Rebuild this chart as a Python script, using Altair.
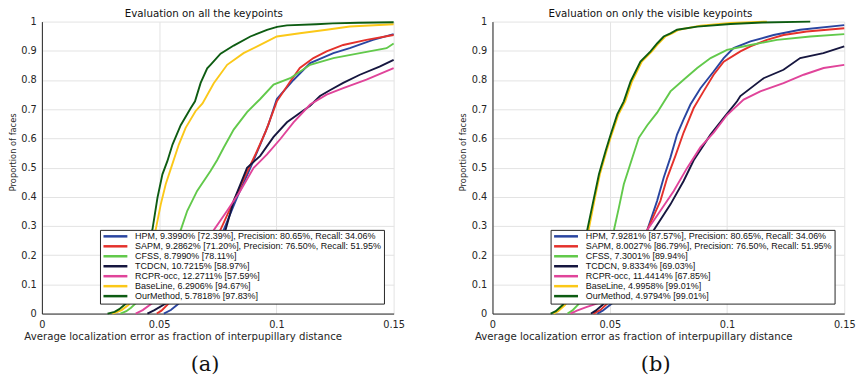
import altair as alt
import pandas as pd

methods = ["HPM", "SAPM", "CFSS", "TCDCN", "RCPR-occ", "BaseLine", "OurMethod"]
colors = ["#2a45a0", "#e4312b", "#62c94b", "#16163f", "#e0449a", "#fbc818", "#0d5c12"]

NB = "\u00a0"
labels_a = [
    "HPM, 9.3990% [72.39%], Precision: 80.65%, Recall: 34.06%",
    "SAPM, 9.2862% [71.20%], Precision: 76.50%, Recall: 51.95%" + NB * 3,
    "CFSS, 8.7990% [78.11%]",
    "TCDCN, 10.7215% [58.97%]",
    "RCPR-occ, 12.2711% [57.59%]",
    "BaseLine, 6.2906% [94.67%]",
    "OurMethod, 5.7818% [97.83%]",
]
labels_b = [
    "HPM, 7.9281% [87.57%], Precision: 80.65%, Recall: 34.06%",
    "SAPM, 8.0027% [86.79%], Precision: 76.50%, Recall: 51.95%" + NB * 15,
    "CFSS, 7.3001% [89.94%]",
    "TCDCN, 9.8334% [69.03%]",
    "RCPR-occ, 11.4414% [67.85%]",
    "BaseLine, 4.9958% [99.01%]",
    "OurMethod, 4.9794% [99.01%]",
]

x_ticks = [0, 0.05, 0.1, 0.15]
y_ticks = [0, 0.1, 0.2, 0.3, 0.4, 0.5, 0.6, 0.7, 0.8, 0.9, 1]

# ---- Panel (a): all keypoints ----
a_hpm_x = [0.052, 0.055, 0.0585, 0.061, 0.064, 0.067, 0.071, 0.0745, 0.0775, 0.0832, 0.0889, 0.0931, 0.0966, 0.1002, 0.1073, 0.1144, 0.1243, 0.1313, 0.1412, 0.15]
a_hpm_y = [0, 0.012, 0.035, 0.06, 0.1, 0.15, 0.21, 0.25, 0.286, 0.397, 0.499, 0.579, 0.647, 0.735, 0.80, 0.858, 0.892, 0.909, 0.9375, 0.957]
a_sapm_x = [0.049, 0.051, 0.054, 0.057, 0.060, 0.064, 0.068, 0.072, 0.0761, 0.0818, 0.0875, 0.0917, 0.0955, 0.1002, 0.1059, 0.110, 0.1158, 0.1214, 0.1285, 0.1384, 0.15]
a_sapm_y = [0, 0.01, 0.034, 0.06, 0.09, 0.14, 0.19, 0.24, 0.286, 0.386, 0.485, 0.556, 0.625, 0.727, 0.795, 0.841, 0.875, 0.898, 0.92, 0.9375, 0.954]
a_cfss_x = [0.0335, 0.036, 0.038, 0.040, 0.043, 0.046, 0.049, 0.052, 0.0555, 0.0592, 0.062, 0.0662, 0.0719, 0.0747, 0.0775, 0.0818, 0.0875, 0.0931, 0.0988, 0.1059, 0.1144, 0.1243, 0.1356, 0.147, 0.15]
a_cfss_y = [0, 0.008, 0.02, 0.035, 0.06, 0.09, 0.13, 0.18, 0.23, 0.286, 0.352, 0.42, 0.488, 0.525, 0.568, 0.63, 0.69, 0.735, 0.784, 0.806, 0.852, 0.875, 0.892, 0.909, 0.925]
a_tcdcn_x = [0.045, 0.048, 0.053, 0.056, 0.060, 0.064, 0.068, 0.072, 0.0755, 0.0783, 0.0818, 0.0875, 0.0931, 0.0988, 0.1045, 0.110, 0.1144, 0.1186, 0.1228, 0.1285, 0.1356, 0.144, 0.15]
a_tcdcn_y = [0, 0.012, 0.035, 0.06, 0.1, 0.14, 0.19, 0.235, 0.265, 0.286, 0.386, 0.499, 0.54, 0.605, 0.655, 0.687, 0.712, 0.745, 0.765, 0.79, 0.818, 0.846, 0.869]
a_rcpr_x = [0.040, 0.043, 0.047, 0.050, 0.054, 0.058, 0.062, 0.066, 0.070, 0.0733, 0.079, 0.0846, 0.0903, 0.096, 0.1016, 0.1073, 0.1144, 0.1214, 0.1285, 0.1384, 0.15]
a_rcpr_y = [0, 0.012, 0.035, 0.06, 0.095, 0.135, 0.18, 0.22, 0.26, 0.286, 0.352, 0.42, 0.499, 0.545, 0.597, 0.655, 0.716, 0.75, 0.772, 0.801, 0.841]
a_base_x = [0.030, 0.032, 0.034, 0.037, 0.040, 0.043, 0.046, 0.0485, 0.0507, 0.0528, 0.0556, 0.0584, 0.0613, 0.0655, 0.0685, 0.0733, 0.079, 0.086, 0.0931, 0.1002, 0.110, 0.1214, 0.1313, 0.15]
a_base_y = [0, 0.005, 0.012, 0.03, 0.065, 0.12, 0.2, 0.286, 0.374, 0.443, 0.511, 0.579, 0.636, 0.693, 0.72, 0.789, 0.852, 0.892, 0.920, 0.949, 0.960, 0.972, 0.983, 0.991]
a_our_x = [0.028, 0.031, 0.033, 0.036, 0.039, 0.042, 0.045, 0.0471, 0.0493, 0.0514, 0.0535, 0.0557, 0.0592, 0.0635, 0.0653, 0.0677, 0.0705, 0.0719, 0.0762, 0.0818, 0.0889, 0.096, 0.1003, 0.1045, 0.117, 0.124, 0.135, 0.15]
a_our_y = [0, 0.006, 0.015, 0.035, 0.075, 0.14, 0.22, 0.286, 0.397, 0.477, 0.522, 0.579, 0.645, 0.704, 0.727, 0.79, 0.84, 0.852, 0.89, 0.918, 0.949, 0.972, 0.982, 0.987, 0.991, 0.994, 0.996, 0.998]

# ---- Panel (b): visible keypoints ----
b_hpm_x = [0.0447, 0.047, 0.051, 0.054, 0.057, 0.060, 0.063, 0.066, 0.0702, 0.073, 0.0759, 0.0787, 0.0815, 0.0844, 0.0887, 0.0943, 0.0986, 0.1028, 0.110, 0.1199, 0.1312, 0.15]
b_hpm_y = [0, 0.01, 0.035, 0.07, 0.12, 0.18, 0.235, 0.286, 0.386, 0.465, 0.535, 0.613, 0.665, 0.716, 0.772, 0.829, 0.875, 0.909, 0.932, 0.954, 0.972, 0.988]
b_sapm_x = [0.043, 0.046, 0.049, 0.052, 0.055, 0.058, 0.0615, 0.066, 0.0716, 0.0745, 0.078, 0.0815, 0.0858, 0.090, 0.0943, 0.0986, 0.1057, 0.110, 0.117, 0.1241, 0.134, 0.15]
b_sapm_y = [0, 0.012, 0.035, 0.07, 0.12, 0.175, 0.23, 0.286, 0.386, 0.465, 0.54, 0.62, 0.704, 0.761, 0.818, 0.863, 0.898, 0.915, 0.9375, 0.954, 0.966, 0.977]
b_cfss_x = [0.032, 0.034, 0.037, 0.040, 0.043, 0.046, 0.049, 0.0518, 0.0539, 0.056, 0.0596, 0.0624, 0.066, 0.0702, 0.0759, 0.0815, 0.0873, 0.093, 0.100, 0.110, 0.1213, 0.1355, 0.15]
b_cfss_y = [0, 0.01, 0.035, 0.07, 0.12, 0.17, 0.23, 0.286, 0.363, 0.443, 0.533, 0.602, 0.645, 0.688, 0.761, 0.801, 0.841, 0.875, 0.903, 0.92, 0.9375, 0.949, 0.957]
b_tcdcn_x = [0.042, 0.044, 0.047, 0.050, 0.054, 0.058, 0.062, 0.066, 0.0688, 0.0759, 0.0815, 0.0858, 0.0929, 0.0986, 0.1043, 0.1057, 0.1156, 0.1241, 0.1312, 0.1411, 0.15]
b_tcdcn_y = [0, 0.01, 0.03, 0.06, 0.1, 0.15, 0.2, 0.25, 0.286, 0.374, 0.454, 0.525, 0.612, 0.67, 0.727, 0.745, 0.806, 0.835, 0.875, 0.892, 0.915]
b_rcpr_x = [0.0333, 0.036, 0.040, 0.0447, 0.048, 0.052, 0.056, 0.060, 0.063, 0.066, 0.0716, 0.0773, 0.083, 0.0887, 0.0943, 0.100, 0.1071, 0.1142, 0.1241, 0.1327, 0.1412, 0.15]
b_rcpr_y = [0, 0.01, 0.022, 0.035, 0.06, 0.1, 0.15, 0.2, 0.245, 0.286, 0.352, 0.42, 0.499, 0.57, 0.62, 0.68, 0.733, 0.761, 0.789, 0.818, 0.841, 0.852]
b_base_x = [0.026, 0.028, 0.031, 0.034, 0.037, 0.0395, 0.041, 0.0437, 0.0458, 0.0486, 0.0508, 0.0537, 0.0566, 0.0595, 0.0637, 0.068, 0.0708, 0.0737, 0.0766, 0.0795, 0.0887, 0.1015, 0.117]
b_base_y = [0, 0.008, 0.03, 0.07, 0.13, 0.21, 0.286, 0.397, 0.477, 0.556, 0.613, 0.682, 0.727, 0.795, 0.863, 0.898, 0.925, 0.949, 0.96, 0.972, 0.986, 0.995, 1.0]
b_our_x = [0.0248, 0.027, 0.030, 0.033, 0.036, 0.0385, 0.0404, 0.0433, 0.0454, 0.0482, 0.0504, 0.0532, 0.056, 0.0589, 0.0631, 0.0674, 0.0702, 0.073, 0.0759, 0.0787, 0.0873, 0.1015, 0.115, 0.1355]
b_our_y = [0, 0.008, 0.03, 0.07, 0.13, 0.21, 0.286, 0.397, 0.477, 0.556, 0.613, 0.682, 0.727, 0.795, 0.863, 0.898, 0.925, 0.949, 0.96, 0.972, 0.983, 0.992, 0.997, 1.0]

curves_a = [(a_hpm_x, a_hpm_y), (a_sapm_x, a_sapm_y), (a_cfss_x, a_cfss_y), (a_tcdcn_x, a_tcdcn_y),
            (a_rcpr_x, a_rcpr_y), (a_base_x, a_base_y), (a_our_x, a_our_y)]
curves_b = [(b_hpm_x, b_hpm_y), (b_sapm_x, b_sapm_y), (b_cfss_x, b_cfss_y), (b_tcdcn_x, b_tcdcn_y),
            (b_rcpr_x, b_rcpr_y), (b_base_x, b_base_y), (b_our_x, b_our_y)]

W, H = 353, 293
TXT = "#262626"


def panel(curves, labels, title, title_dx, caption):
    rows = []
    for (xs, ys), lab in zip(curves, labels):
        for xv, yv in zip(xs, ys):
            rows.append({"err": xv, "prop": yv, "label": lab})
    df = pd.DataFrame(rows)

    lines = alt.Chart(df).mark_line(strokeWidth=1.9).encode(
        x=alt.X("err:Q",
                scale=alt.Scale(domain=[0, 0.15], nice=False, zero=False),
                axis=alt.Axis(values=x_ticks, format=".2~f", labelFlush=False,
                              title="Average localization error as fraction of interpupillary distance",
                              titleX=141.3, titleFontSize=10.2, labelPadding=6.4, titlePadding=2.2)),
        y=alt.Y("prop:Q",
                scale=alt.Scale(domain=[0, 1], nice=False),
                axis=alt.Axis(values=y_ticks, format=".1~f", labelFlush=False,
                              title="Proportion of faces",
                              titleY=130.7, titleFontSize=8.3, labelPadding=5.7, titlePadding=3.3)),
        color=alt.Color("label:N",
                        scale=alt.Scale(domain=labels, range=colors),
                        legend=alt.Legend(title=None, orient="none", legendX=58.3, legendY=209,
                                          direction="vertical", fillColor="white", strokeColor=TXT,
                                          padding=2, rowPadding=-1.0,
                                          symbolType="M-5,0H5", symbolSize=23, symbolStrokeWidth=2.5,
                                          symbolOffset=9, labelOffset=15.25,
                                          labelFont="Liberation Sans", labelFontSize=9,
                                          labelColor="#111111", labelLimit=500, zindex=1)),
    )

    cap = alt.Chart(pd.DataFrame({"caption": [caption]})).mark_text(
        font="DejaVu Serif", fontSize=21, dx=-12.7, dy=198.5, baseline="middle", color="#111111"
    ).encode(text="caption:N")

    return alt.layer(lines, cap).properties(
        width=W, height=H,
        title=alt.Title(title, font="DejaVu Sans", fontSize=10.3, fontWeight="normal",
                        color="#111111", dx=title_dx, offset=-3, frame="group", anchor="middle"),
    )


pa = panel(curves_a, labels_a, "Evaluation on all the keypoints", -14, "(a)")
pb = panel(curves_b, labels_b, "Evaluation on only the visible keypoints", -18, "(b)")

chart = alt.hconcat(pa, pb, spacing=54.2).resolve_scale(color="independent").resolve_legend(
    color="independent"
).properties(
    padding={"left": 0, "top": 0, "right": 0, "bottom": 0}, background="white"
).configure_view(stroke=None).configure_axis(
    grid=True, gridColor="#e3e3e3", gridWidth=1,
    domainColor=TXT, domainWidth=1, ticks=False, tickSize=0,
    labelFont="DejaVu Sans", labelFontSize=9.8, labelColor=TXT,
    titleFont="DejaVu Sans", titleFontWeight="normal", titleColor=TXT,
)

chart.save("out.html", embed_options={"renderer": "svg", "actions": False})
